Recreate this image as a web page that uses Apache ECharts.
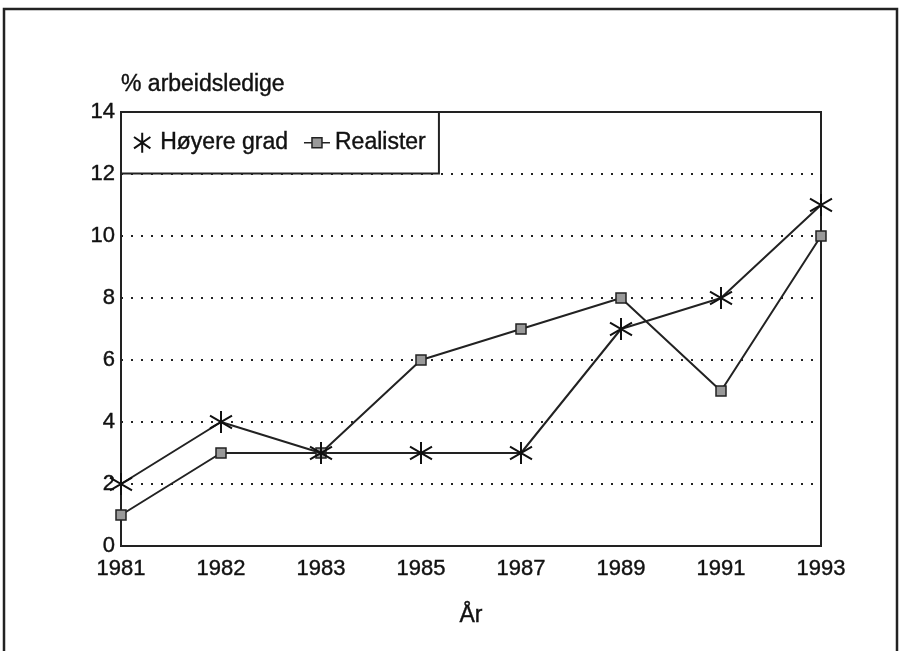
<!DOCTYPE html>
<html>
<head>
<meta charset="utf-8">
<script src="https://cdn.jsdelivr.net/npm/echarts@6/dist/echarts.min.js"></script>
<style>
  html, body { margin: 0; padding: 0; background: #fff; }
  #chart { width: 900px; height: 651px; }
</style>
</head>
<body>
<div id="chart"></div>
<script>
// år på x-aksen
const years = ['1981', '1982', '1983', '1985', '1987', '1989', '1991', '1993'];
// prosent arbeidsledige
const hoyereGrad = [2, 4, 3, 3, 3, 7, 8, 11];
const realister = [1, 3, 3, 6, 7, 8, 5, 10];
const yTicks = [0, 2, 4, 6, 8, 10, 12, 14];

const FONT = '"Liberation Sans", Arial, Helvetica, sans-serif';
// litt tykkere tekst, som i originalen
const TXT = { fontFamily: FONT, color: '#111', textBorderColor: '#111', textBorderWidth: 0.4 };
// stjerne-markør (seks armer)
const STAR = 'path://M0,-10L0,10M-8.2,-5.7L8.2,5.7M-8.2,5.7L8.2,-5.7';
// legend-ikon: strek med firkant
const LINE_RECT = 'path://M0,5L8,5M18,5L26,5M8,0L18,0L18,10L8,10Z';

const chart = echarts.init(document.getElementById('chart'));
chart.setOption({
  backgroundColor: '#fff',
  animation: false,
  textStyle: { fontFamily: FONT, color: '#111' },
  graphic: [{
    type: 'rect',
    shape: { x: 4, y: 9, width: 893, height: 660 },
    style: { fill: 'none', stroke: '#222', lineWidth: 2.5 },
    silent: true
  }],
  grid: {
    left: 121, right: 79, top: 112, bottom: 105,
    show: true, borderColor: '#222', borderWidth: 2
  },
  legend: {
    left: 121, top: 112,
    orient: 'horizontal',
    backgroundColor: '#fff',
    borderColor: '#222', borderWidth: 2, borderRadius: 0,
    padding: [19, 13, 19, 12],
    itemGap: 15,
    itemWidth: 26, itemHeight: 20,
    textStyle: Object.assign({ fontSize: 23 }, TXT),
    data: [
      { name: 'Høyere grad', icon: STAR, itemStyle: { color: '#111', borderColor: '#111', borderWidth: 2 } },
      { name: 'Realister', icon: LINE_RECT, itemStyle: { color: '#999', borderColor: '#222', borderWidth: 1.5 } }
    ],
    z: 10
  },
  xAxis: {
    type: 'category',
    data: years,
    boundaryGap: false,
    name: 'År',
    nameLocation: 'middle',
    nameGap: 58,
    nameTextStyle: Object.assign({ fontSize: 23 }, TXT),
    axisLine: { lineStyle: { color: '#222', width: 2 } },
    axisTick: { show: false },
    axisLabel: Object.assign({ fontSize: 22, margin: 12 }, TXT),
    splitLine: { show: false }
  },
  yAxis: {
    type: 'value',
    min: 0, max: 14, interval: 2,
    name: '% arbeidsledige',
    nameLocation: 'end',
    nameGap: 27,
    nameTextStyle: Object.assign({ fontSize: 23, align: 'left', verticalAlign: 'middle' }, TXT),
    axisLine: { show: true, lineStyle: { color: '#222', width: 2 } },
    axisTick: { show: false },
    axisLabel: Object.assign({
      fontSize: 22, margin: 6,
      formatter: v => yTicks.includes(v) ? String(v) : ''
    }, TXT),
    splitLine: {
      show: true,
      lineStyle: { color: '#222', width: 2, type: [2, 8] }
    }
  },
  series: [
    {
      name: 'Realister',
      type: 'line',
      data: realister,
      symbol: 'rect',
      symbolSize: 10,
      clip: false,
      itemStyle: { color: '#999', borderColor: '#222', borderWidth: 1.5 },
      lineStyle: { color: '#222', width: 2 },
      z: 3
    },
    {
      name: 'Høyere grad',
      type: 'line',
      data: hoyereGrad,
      symbol: STAR,
      symbolSize: 22,
      clip: false,
      itemStyle: { color: '#111', borderColor: '#111', borderWidth: 2 },
      lineStyle: { color: '#222', width: 2 },
      z: 4
    }
  ]
});
</script>
</body>
</html>
